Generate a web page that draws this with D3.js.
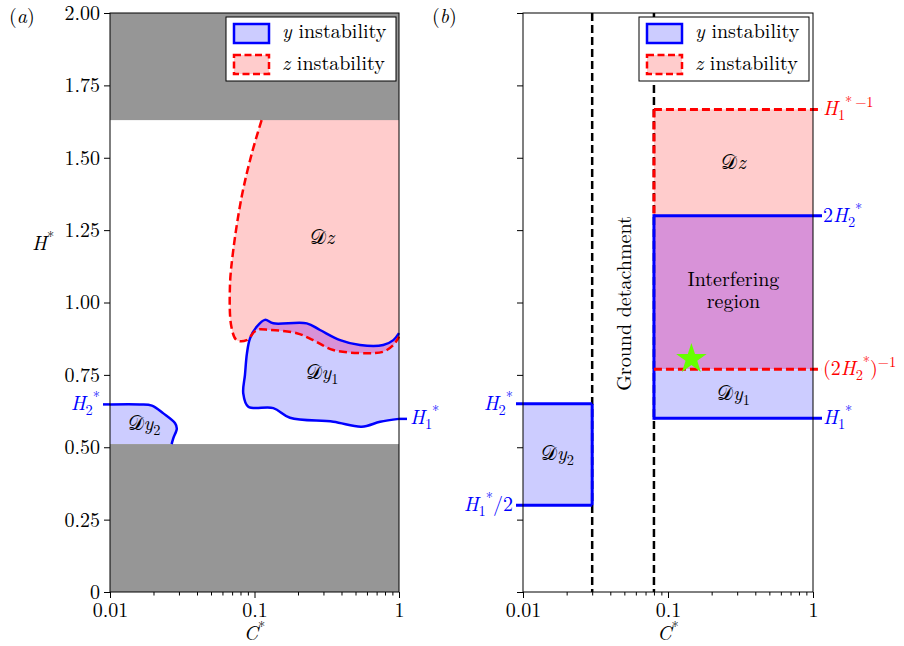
<!DOCTYPE html>
<html>
<head>
<meta charset="utf-8">
<script src="https://cdn.jsdelivr.net/npm/d3@7"></script>
<style>
  html, body { margin: 0; padding: 0; background: #fff; }
  svg { display: block; }
  text { font-family: "Latin Modern Roman", "Liberation Serif", serif; }
</style>
</head>
<body>
<svg id="chart" width="904" height="646"></svg>
<script>
// ---------------- DATA ----------------
const cDomain = [0.01, 1];
const hDomain = [0, 2];
const cMajorTicks = [0.01, 0.1, 1];
const cMajorLabels = ["0.01", "0.1", "1"];
const hTicks = [0, 0.25, 0.5, 0.75, 1.0, 1.25, 1.5, 1.75, 2.0];
const hTickLabels = ["0", "0.25", "0.50", "0.75", "1.00", "1.25", "1.50", "1.75", "2.00"];

// panel (a): excluded (gray) bands in H*
const grayBands = [[0, 0.511], [1.63, 2.0]];

// panel (a): z-instability boundary (C*, H*), from top edge to right edge
const dzBoundary = [
  [0.112, 1.630], [0.0958, 1.515], [0.0815, 1.365], [0.0713, 1.181],
  [0.0676, 1.055], [0.0692, 0.916], [0.0753, 0.870], [0.0883, 0.870],
  [0.1035, 0.905], [0.128, 0.905], [0.196, 0.894], [0.255, 0.870],
  [0.351, 0.836], [0.597, 0.825], [0.778, 0.830], [0.914, 0.853], [1.0, 0.882]
];
// panel (a): y-instability region 1 contour, right edge (top) -> around -> right edge (bottom)
const dy1Contour = [
  [1.0, 0.894], [0.914, 0.870], [0.778, 0.853], [0.537, 0.853], [0.391, 0.870],
  [0.284, 0.905], [0.230, 0.928], [0.135, 0.928], [0.118, 0.940], [0.1035, 0.916],
  [0.0931, 0.876], [0.0887, 0.825], [0.0859, 0.750], [0.0836, 0.686], [0.0906, 0.640],
  [0.135, 0.635], [0.176, 0.602], [0.351, 0.588], [0.552, 0.571], [0.740, 0.588],
  [1.0, 0.598]
];
// panel (a): y-instability region 2 boundary, from left edge to the gray band
const dy2Boundary = [
  [0.01, 0.648], [0.0161, 0.648], [0.0195, 0.644], [0.0234, 0.617],
  [0.0282, 0.583], [0.0290, 0.565], [0.0274, 0.531], [0.0267, 0.511]
];

// panel (b): characteristic levels
const H1 = 0.6, H1half = 0.3, H2 = 0.65, twoH2 = 1.3, invTwoH2 = 0.769, invH1 = 1.667;
const detachC = [0.03, 0.08];
const starPoint = [0.145, 0.805];

// colours
const BLUE = "#0000ff", RED = "#ff0000";
const BLUE_FILL = "#ccccff", RED_FILL = "#ffcccc", PURPLE_FILL = "#d892d8", GRAY = "#969696";

// ---------------- LAYOUT ----------------
const svg = d3.select("#chart");
const yTop = 13, yBottom = 592;
const panels = [
  { x0: 110, x1: 399, tag: "(a)", tagX: 9 },
  { x0: 523, x1: 813, tag: "(b)", tagX: 432 }
];
const ys = d3.scaleLinear().domain(hDomain).range([yBottom, yTop]);
const FS = 20;
const FONT = "Latin Modern Roman";

function rich(sel, parts, size) {
  let cur = 0;
  parts.forEach(p => {
    const target = p.sub ? 0.25 * size : (p.sup ? -0.4 * size : 0);
    sel.append("tspan")
      .attr("dy", target - cur)
      .style("font-size", ((p.sub || p.sup) ? 0.72 * size : size) + "px")
      .style("font-style", p.i ? "italic" : "normal")
      .text(p.t);
    cur = target;
  });
  return sel;
}
function label(g, x, y, parts, opts = {}) {
  const size = opts.size || FS;
  const t = g.append("text").attr("x", x).attr("y", y)
    .attr("text-anchor", opts.anchor || "start")
    .style("font-size", size + "px")
    .attr("fill", opts.color || "#000");
  return rich(t, parts, size);
}
const Hsub = (s) => [{ t: "H", i: true }, { t: s, sub: true }, { t: "*", sup: true }];
const Dlab = (s, sub) => sub ? [{ t: "𝒟" }, { t: s, i: true }, { t: sub, sub: true }] : [{ t: "𝒟" }, { t: s, i: true }];

function drawAxes(g, xs, p, showYLabels) {
  const yAxis = d3.axisLeft(ys).tickValues(hTicks)
    .tickFormat((d, i) => showYLabels ? hTickLabels[i] : "")
    .tickSize(6).tickPadding(4);
  const ga = g.append("g").attr("transform", `translate(${p.x0},0)`).call(yAxis);
  ga.select(".domain").remove();
  ga.selectAll("text").style("font-size", FS + "px").style("font-family", FONT).attr("fill", "#000");
  ga.selectAll("line").attr("stroke", "#000");

  const minor = xs.ticks().filter(v => !cMajorTicks.some(m => Math.abs(m - v) < 1e-9));
  const gx = g.append("g").attr("transform", `translate(0,${yBottom})`)
    .call(d3.axisBottom(xs).tickValues(minor).tickSize(3.5).tickFormat(""));
  gx.select(".domain").remove();
  gx.selectAll("line").attr("stroke", "#000");
  const gx2 = g.append("g").attr("transform", `translate(0,${yBottom})`)
    .call(d3.axisBottom(xs).tickValues(cMajorTicks).tickSize(6).tickPadding(5)
      .tickFormat((d, i) => cMajorLabels[i]));
  gx2.select(".domain").remove();
  gx2.selectAll("text").style("font-size", FS + "px").style("font-family", FONT).attr("fill", "#000");
  gx2.selectAll("line").attr("stroke", "#000");

  g.append("rect").attr("x", p.x0).attr("y", yTop).attr("width", p.x1 - p.x0).attr("height", yBottom - yTop)
    .attr("fill", "none").attr("stroke", "#000").attr("stroke-width", 1);

  label(g, (p.x0 + p.x1) / 2, 640, [{ t: "C", i: true }, { t: "*", sup: true }], { anchor: "middle" });
  const tg = g.append("text").attr("x", p.tagX).attr("y", 23).style("font-size", FS + "px");
  rich(tg, [{ t: "(" }, { t: p.tag[1], i: true }, { t: ")" }], FS);
}

function drawLegend(g, x, y) {
  g.append("rect").attr("x", x).attr("y", y).attr("width", 170).attr("height", 64)
    .attr("fill", "#fff").attr("stroke", "#000").attr("stroke-width", 1);
  g.append("rect").attr("x", x + 8).attr("y", y + 7).attr("width", 35).attr("height", 19)
    .attr("fill", BLUE_FILL).attr("stroke", BLUE).attr("stroke-width", 2.5);
  g.append("rect").attr("x", x + 8).attr("y", y + 38).attr("width", 35).attr("height", 19)
    .attr("fill", RED_FILL).attr("stroke", RED).attr("stroke-width", 2.5).attr("stroke-dasharray", "7,3.5");
  label(g, x + 56, y + 21, [{ t: "y", i: true }, { t: " instability" }]);
  label(g, x + 56, y + 53, [{ t: "z", i: true }, { t: " instability" }]);
}

// ---------------- PANEL (a) ----------------
{
  const p = panels[0];
  const xs = d3.scaleLog().domain(cDomain).range([p.x0, p.x1]);
  const g = svg.append("g");
  const defs = svg.append("defs");
  defs.append("clipPath").attr("id", "clipA").append("rect")
    .attr("x", p.x0).attr("y", yTop).attr("width", p.x1 - p.x0).attr("height", yBottom - yTop);

  const line = d3.line().x(d => xs(d[0])).y(d => ys(d[1])).curve(d3.curveCatmullRom.alpha(0.5));

  const dzPath = line(dzBoundary) + "L" + xs(1) + "," + ys(grayBands[1][0]) + "Z";
  const dy1Path = line(dy1Contour) + "Z";
  const dy2Path = line(dy2Boundary) + "L" + xs(0.01) + "," + ys(grayBands[0][1]) + "Z";

  defs.append("clipPath").attr("id", "clipDz").append("path").attr("d", dzPath);

  const fills = g.append("g").attr("clip-path", "url(#clipA)");
  fills.append("path").attr("d", dzPath).attr("fill", RED_FILL);
  fills.append("path").attr("d", dy1Path).attr("fill", BLUE_FILL);
  fills.append("g").attr("clip-path", "url(#clipDz)").append("path").attr("d", dy1Path).attr("fill", PURPLE_FILL);
  fills.append("path").attr("d", dy2Path).attr("fill", BLUE_FILL);
  grayBands.forEach(b => {
    fills.append("rect").attr("x", p.x0).attr("width", p.x1 - p.x0)
      .attr("y", ys(b[1])).attr("height", ys(b[0]) - ys(b[1])).attr("fill", GRAY);
  });

  g.append("path").attr("d", line(dy1Contour)).attr("fill", "none")
    .attr("stroke", BLUE).attr("stroke-width", 2.5).attr("stroke-linejoin", "round");
  g.append("path").attr("d", line(dzBoundary)).attr("fill", "none")
    .attr("stroke", RED).attr("stroke-width", 2.5).attr("stroke-dasharray", "8,4");
  g.append("path").attr("d", line(dy2Boundary)).attr("fill", "none")
    .attr("stroke", BLUE).attr("stroke-width", 2.5).attr("stroke-linejoin", "round");
  g.append("line").attr("x1", p.x0 - 7).attr("x2", xs(0.01)).attr("y1", ys(dy2Boundary[0][1])).attr("y2", ys(dy2Boundary[0][1]))
    .attr("stroke", BLUE).attr("stroke-width", 2.5);
  const h1y = ys(dy1Contour[dy1Contour.length - 1][1]);
  g.append("line").attr("x1", p.x1).attr("x2", p.x1 + 8).attr("y1", h1y).attr("y2", h1y)
    .attr("stroke", BLUE).attr("stroke-width", 2.5);

  drawAxes(g, xs, p, true);

  label(g, 32, 250, [{ t: "H", i: true }, { t: "*", sup: true }]);

  label(g, 100, ys(H2) + 6, Hsub("2"), { anchor: "end", color: BLUE });
  label(g, 410, ys(H1) + 6, Hsub("1"), { color: BLUE });

  label(g, 322, 244, Dlab("z"), { anchor: "middle" });
  label(g, 322, 379, Dlab("y", "1"), { anchor: "middle" });
  label(g, 144, 430, Dlab("y", "2"), { anchor: "middle" });

  drawLegend(g, 226, 17);
}

// ---------------- PANEL (b) ----------------
{
  const p = panels[1];
  const xs = d3.scaleLog().domain(cDomain).range([p.x0, p.x1]);
  const g = svg.append("g");
  const xa = xs(detachC[1]), xr = xs(1), xl = xs(0.01), xd = xs(detachC[0]);

  g.append("rect").attr("x", xl).attr("width", xd - xl).attr("y", ys(H2)).attr("height", ys(H1half) - ys(H2)).attr("fill", BLUE_FILL);
  g.append("rect").attr("x", xa).attr("width", xr - xa).attr("y", ys(invH1)).attr("height", ys(twoH2) - ys(invH1)).attr("fill", RED_FILL);
  g.append("rect").attr("x", xa).attr("width", xr - xa).attr("y", ys(twoH2)).attr("height", ys(invTwoH2) - ys(twoH2)).attr("fill", PURPLE_FILL);
  g.append("rect").attr("x", xa).attr("width", xr - xa).attr("y", ys(invTwoH2)).attr("height", ys(H1) - ys(invTwoH2)).attr("fill", BLUE_FILL);

  detachC.forEach(c => {
    g.append("line").attr("x1", xs(c)).attr("x2", xs(c)).attr("y1", yTop).attr("y2", yBottom)
      .attr("stroke", "#000").attr("stroke-width", 2.5).attr("stroke-dasharray", "8,4");
  });

  const seg = (x1, y1, x2, y2, color, dashed) => g.append("line")
    .attr("x1", x1).attr("y1", y1).attr("x2", x2).attr("y2", y2)
    .attr("stroke", color).attr("stroke-width", 3)
    .attr("stroke-dasharray", dashed ? "8,4" : null);

  seg(xa, ys(invH1), xr + 9, ys(invH1), RED, true);
  seg(xa, ys(invH1), xa, ys(twoH2), RED, true);
  seg(xl - 7, ys(H2), xd, ys(H2), BLUE, false);
  seg(xl - 7, ys(H1half), xd, ys(H1half), BLUE, false);
  seg(xd, ys(H2), xd, ys(H1half), BLUE, false);
  seg(xa, ys(twoH2), xr + 9, ys(twoH2), BLUE, false);
  seg(xa, ys(H1), xr + 9, ys(H1), BLUE, false);
  seg(xa, ys(H1) + 1.5, xa, ys(twoH2) - 1.5, BLUE, false);
  seg(xa, ys(invTwoH2), xr + 9, ys(invTwoH2), RED, true);

  drawAxes(g, xs, p, false);

  g.append("path").attr("d", d3.symbol().type(d3.symbolStar).size(290)())
    .attr("transform", `translate(${xs(starPoint[0])},${ys(starPoint[1])})`)
    .attr("fill", "#66ff00");

  const cx = (xa + xr) / 2;
  const cyI = ys((twoH2 + invTwoH2) / 2);
  label(g, cx, ys((invH1 + twoH2) / 2) + 6, Dlab("z"), { anchor: "middle" });
  label(g, cx, cyI - 6.5, [{ t: "Interfering" }], { anchor: "middle" });
  label(g, cx, cyI + 15.5, [{ t: "region" }], { anchor: "middle" });
  label(g, cx, ys((invTwoH2 + H1) / 2) + 6, Dlab("y", "1"), { anchor: "middle" });
  label(g, (xl + xd) / 2, ys((H2 + H1half) / 2) + 6, Dlab("y", "2"), { anchor: "middle" });

  g.append("text").attr("transform", `translate(631,303.5) rotate(-90)`)
    .attr("text-anchor", "middle").style("font-size", FS + "px").text("Ground detachment");

  label(g, 823, ys(invH1) + 6, [{ t: "H", i: true }, { t: "1", sub: true }, { t: "*\u2009\u22121", sup: true }], { color: RED });
  label(g, 823, ys(twoH2) + 6, [{ t: "2" }, { t: "H", i: true }, { t: "2", sub: true }, { t: "*", sup: true }], { color: BLUE });
  label(g, 823, ys(invTwoH2) + 6, [{ t: "(2" }, { t: "H", i: true }, { t: "2", sub: true }, { t: "*", sup: true }, { t: ")" }, { t: "\u22121", sup: true }], { color: RED });
  label(g, 823, ys(H1) + 6, Hsub("1"), { color: BLUE });
  label(g, 513, ys(H2) + 6, Hsub("2"), { anchor: "end", color: BLUE });
  label(g, 513, ys(H1half) + 6, [...Hsub("1"), { t: "/2" }], { anchor: "end", color: BLUE });

  drawLegend(g, 639, 17);
}
</script>
</body>
</html>
